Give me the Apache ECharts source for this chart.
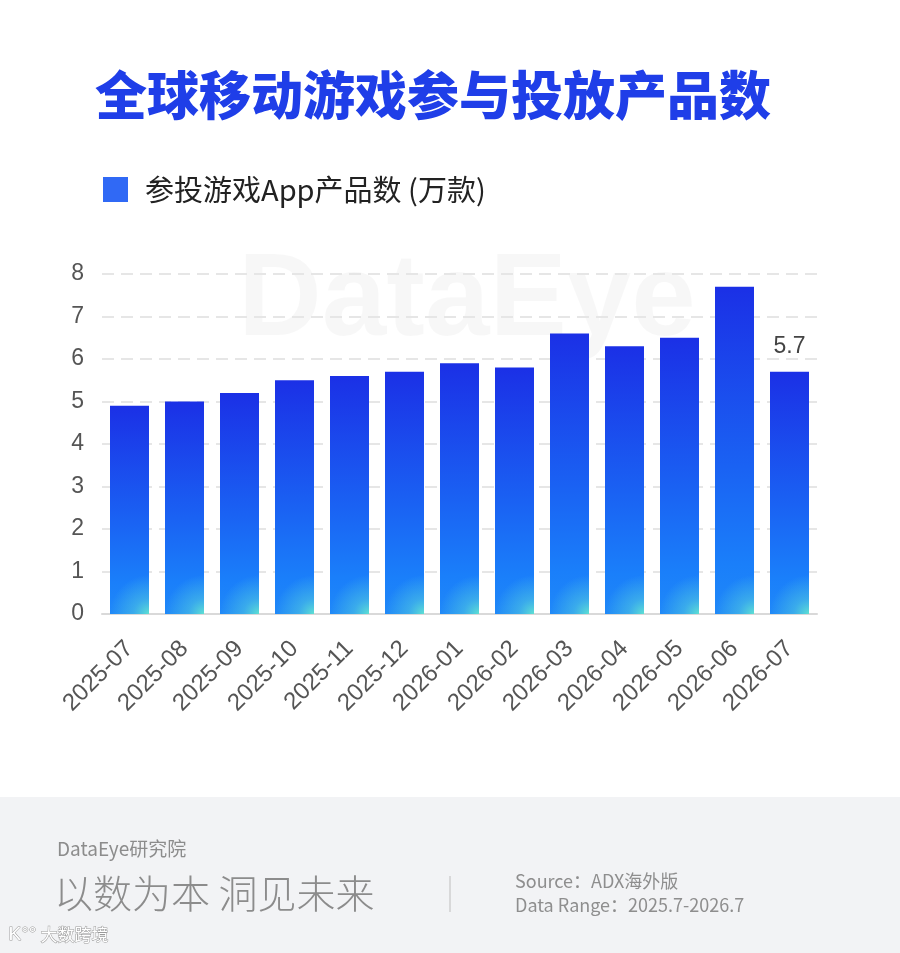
<!DOCTYPE html>
<html lang="zh-CN">
<head>
    <meta charset="utf-8">
    <title>全球移动游戏参与投放产品数</title>
    <script src="https://cdn.jsdelivr.net/npm/echarts@6/dist/echarts.min.js"></script>
    <style>
        html, body { margin: 0; padding: 0; background: #fff; }
        #main { width: 900px; height: 953px; }
    </style>
</head>
<body>
<div id="main"></div>
<script type="text/javascript">
    // 数据
    var months = ['2025-07', '2025-08', '2025-09', '2025-10', '2025-11', '2025-12', '2026-01',
        '2026-02', '2026-03', '2026-04', '2026-05', '2026-06', '2026-07'];
    var products = [4.9, 5.0, 5.2, 5.5, 5.6, 5.7, 5.9, 5.8, 6.6, 6.3, 6.5, 7.7, 5.7];
    var yTicks = [0, 8, 1]; // min, max, interval
    var seriesName = '参投游戏App产品数 (万款)';

    var numFont = "'Liberation Sans', 'Noto Sans CJK SC', sans-serif";
    var cjkFont = "'Noto Sans CJK SC', sans-serif";

    var myChart = echarts.init(document.getElementById('main'));

    var option = {
        backgroundColor: '#ffffff',
        animation: false,
        title: {
            text: '全球移动游戏参与投放产品数',
            left: 90,
            top: 64,
            textStyle: { fontFamily: cjkFont, fontSize: 52, fontWeight: 900, color: '#1f3ee8' }
        },
        legend: {
            data: [{ name: seriesName, itemStyle: { color: '#3069f5' } }],
            left: 98,
            top: 170,
            icon: 'rect',
            itemWidth: 25,
            itemHeight: 25,
            textStyle: { fontFamily: cjkFont, fontSize: 29, color: '#222', padding: [0, 0, 0, 12] }
        },
        grid: { left: 102, right: 83, top: 274, bottom: 339 },
        xAxis: {
            type: 'category',
            data: months,
            axisLine: { lineStyle: { color: '#d9d9d9', width: 2 } },
            axisTick: { show: false },
            axisLabel: { rotate: 45, margin: 31, fontFamily: numFont, fontSize: 24, color: '#555' }
        },
        yAxis: {
            type: 'value',
            min: yTicks[0],
            max: yTicks[1],
            interval: yTicks[2],
            axisLine: { show: false },
            axisTick: { show: false },
            axisLabel: { margin: 18, fontFamily: numFont, fontSize: 23, color: '#555' },
            splitLine: { lineStyle: { color: '#e6e6e6', width: 2, type: [12, 7] } }
        },
        series: [{
            name: seriesName,
            type: 'bar',
            barWidth: 39,
            data: products,
            itemStyle: {
                color: new echarts.graphic.LinearGradient(0, 0, 0, 1, [
                    { offset: 0, color: '#1b30e6' },
                    { offset: 0.55, color: '#1a62f3' },
                    { offset: 0.85, color: '#1a7ffa' },
                    { offset: 1, color: '#1f88f8' }
                ])
            },
            label: {
                show: true,
                position: 'top',
                distance: 14,
                fontFamily: numFont,
                fontSize: 23,
                color: '#444',
                formatter: function (p) {
                    return p.dataIndex === products.length - 1 ? p.value : '';
                }
            }
        }, {
            // 右下角青色光晕
            name: 'glow',
            type: 'bar',
            barWidth: 39,
            barGap: '-100%',
            silent: true,
            data: products,
            itemStyle: {
                color: new echarts.graphic.RadialGradient(1, 1, 1.0, [
                    { offset: 0, color: 'rgba(95,225,210,1)' },
                    { offset: 0.4, color: 'rgba(80,200,225,0.55)' },
                    { offset: 1, color: 'rgba(80,200,225,0)' }
                ])
            }
        }],
        graphic: [
            {
                type: 'text', left: 238, top: 245, z: -1, silent: true,
                style: { text: 'DataEye', fontFamily: numFont, fontSize: 116, fontWeight: 'bold', fill: 'rgba(0,0,0,0.03)' }
            },
            {
                type: 'rect', left: 0, top: 797, z: -1, silent: true,
                shape: { width: 900, height: 156 },
                style: { fill: '#f2f3f5' }
            },
            {
                type: 'text', left: 57, top: 839,
                style: { text: 'DataEye研究院', fontFamily: cjkFont, fontSize: 19, fill: '#8c8c8c' }
            },
            {
                type: 'text', left: 54, top: 874,
                style: { text: '以数为本 洞见未来', fontFamily: cjkFont, fontSize: 39, fontWeight: 300, fill: '#8c8c8c' }
            },
            {
                type: 'line', silent: true,
                shape: { x1: 450, y1: 876, x2: 450, y2: 912 },
                style: { stroke: '#cfcfcf', lineWidth: 1.5 }
            },
            {
                type: 'text', left: 515, top: 872,
                style: { text: 'Source：ADX海外版', fontFamily: cjkFont, fontSize: 18, fill: '#8e8e8e' }
            },
            {
                type: 'text', left: 515, top: 896,
                style: { text: 'Data Range：2025.7-2026.7', fontFamily: cjkFont, fontSize: 18, fill: '#8e8e8e' }
            },
            {
                type: 'text', left: 8, top: 925,
                style: { text: 'K°°', fontFamily: numFont, fontSize: 19, fill: '#ffffff', stroke: '#9a9a9a', lineWidth: 1 }
            },
            {
                type: 'text', left: 40, top: 926,
                style: { text: '大数跨境', fontFamily: cjkFont, fontSize: 17, fill: '#ffffff', stroke: '#9a9a9a', lineWidth: 1 }
            }
        ]
    };
    myChart.setOption(option);
</script>
</body>
</html>
